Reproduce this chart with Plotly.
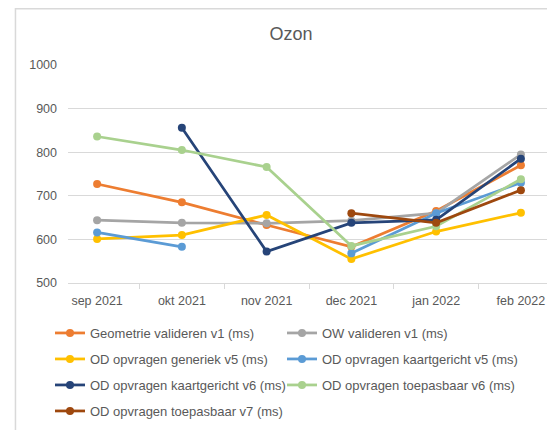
import plotly.graph_objects as go

months = ["sep 2021", "okt 2021", "nov 2021", "dec 2021", "jan 2022", "feb 2022"]

geometrie_v1 = [727, 685, 633, 583, 665, 770]
ow_v1 = [644, 638, 637, 643, 660, 795]
od_generiek_v5 = [601, 610, 656, 555, 618, 661]
od_kaart_v5 = [616, 583, None, 568, 660, 730]
od_kaart_v6 = [None, 856, 572, 638, 645, 785]
od_toepas_v6 = [836, 805, 766, 585, 630, 738]
od_toepas_v7 = [None, None, None, 660, 638, 713]

series = [
    ("Geometrie valideren v1 (ms)", geometrie_v1, "#ED7D31"),
    ("OW valideren v1 (ms)", ow_v1, "#A5A5A5"),
    ("OD opvragen generiek v5 (ms)", od_generiek_v5, "#FFC000"),
    ("OD opvragen kaartgericht v5 (ms)", od_kaart_v5, "#5B9BD5"),
    ("OD opvragen kaartgericht v6 (ms)", od_kaart_v6, "#264478"),
    ("OD opvragen toepasbaar v6 (ms)", od_toepas_v6, "#A9D18E"),
    ("OD opvragen toepasbaar v7 (ms)", od_toepas_v7, "#9E480E"),
]

W, H = 555, 430
# legend spots (pixel) : two columns, four rows
col_x = [42, 274]
row_y = [325, 351, 377, 403]

fig = go.Figure()
legends = {}
for i, (name, vals, col) in enumerate(series):
    lg = "legend" if i == 0 else f"legend{i + 1}"
    fig.add_trace(go.Scatter(
        x=months, y=vals, name=name, mode="lines+markers",
        line=dict(color=col, width=2.75),
        marker=dict(color=col, size=8),
        connectgaps=False, legend=lg,
    ))
    legends[lg] = dict(
        xref="container", yref="container",
        x=col_x[i % 2] / W, xanchor="left",
        y=1 - row_y[i // 2] / H, yanchor="middle",
        itemwidth=30, bgcolor="rgba(0,0,0,0)",
        font=dict(family="Liberation Sans, Arial", size=13, color="#595959"),
    )

fig.update_layout(
    width=W, height=H,
    paper_bgcolor="white", plot_bgcolor="white",
    font=dict(family="Liberation Sans, Arial", color="#595959", size=12),
    title=dict(text="Ozon", x=283 / W, xanchor="center", y=1 - 26 / H, yanchor="middle",
               font=dict(size=18, color="#595959")),
    margin=dict(l=60, r=13, t=57, b=155, autoexpand=False),
    xaxis=dict(
        showgrid=False, showline=True, linecolor="#D9D9D9", linewidth=1,
        ticks="outside", tickson="boundaries", ticklen=5, tickcolor="#D9D9D9",
        tickfont=dict(size=12.5, color="#595959"), ticklabelstandoff=6,
        automargin=False,
    ),
    yaxis=dict(
        range=[500, 1000], dtick=100, showgrid=True, gridcolor="#D9D9D9",
        zeroline=False, showline=False, ticks="", ticklabelstandoff=10,
        tickfont=dict(size=12.5, color="#595959"), automargin=False,
    ),
    showlegend=True,
    shapes=[dict(type="rect", xref="paper", yref="paper",
                 x0=-0.109, x1=1.2, y0=-1.2, y1=1.258,
                 line=dict(color="#D9D9D9", width=1.5))],
    **legends,
)

fig.write_html("out.html")
